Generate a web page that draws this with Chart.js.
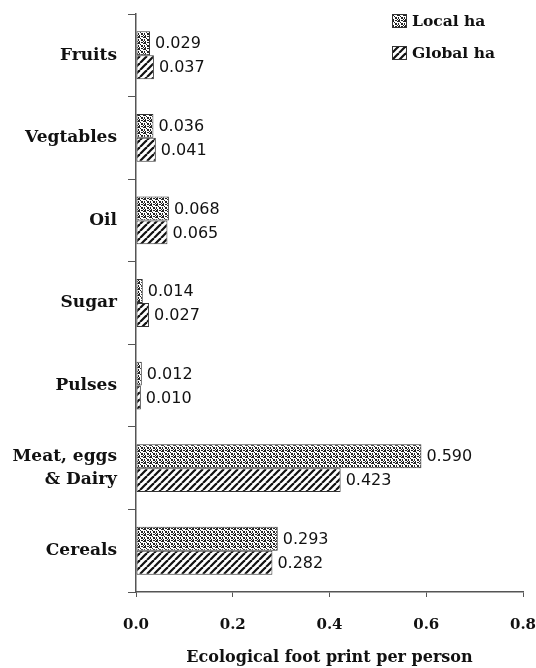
<!DOCTYPE html>
<html>
<head>
<meta charset="utf-8">
<script src="https://cdn.jsdelivr.net/npm/chart.js@4/dist/chart.umd.min.js"></script>
<style>
  html, body { margin: 0; padding: 0; background: #fff; }
  #wrap { position: relative; width: 536px; height: 668px; }
  #legend { position: absolute; left: 392px; top: 12px; font: bold 15.5px "DejaVu Serif", serif; color: #111; }
  #legend div { display: flex; align-items: center; height: 17px; margin-bottom: 15px; }
  #legend canvas { width: 15px; height: 14px; margin-right: 5px; }
</style>
</head>
<body>
<div id="wrap">
  <canvas id="chart" width="536" height="668"></canvas>
  <div id="legend">
    <div><canvas id="swLocal" width="15" height="14"></canvas><span>Local ha</span></div>
    <div><canvas id="swGlobal" width="15" height="14"></canvas><span>Global ha</span></div>
  </div>
</div>
<script>
// data
const categories = ['Fruits', 'Vegtables', 'Oil', 'Sugar', 'Pulses', ['Meat, eggs', '& Dairy'], 'Cereals'];
const localHa = [0.029, 0.036, 0.068, 0.014, 0.012, 0.590, 0.293];
const globalHa = [0.037, 0.041, 0.065, 0.027, 0.010, 0.423, 0.282];
const seriesNames = ['Local ha', 'Global ha'];
const xTicks = [0.0, 0.2, 0.4, 0.6, 0.8];

// fill patterns
function dotTile() {
    const c = document.createElement('canvas');
    c.width = 6; c.height = 6;
    const g = c.getContext('2d');
    g.fillStyle = '#fff';
    g.fillRect(0, 0, 6, 6);
    g.fillStyle = '#222';
    g.fillRect(0, 0, 2, 2);
    g.fillRect(3, 0, 2, 1);
    g.fillRect(3, 3, 2, 2);
    g.fillRect(0, 3, 1, 2);
    g.fillRect(2, 2, 1, 1);
    g.fillRect(5, 5, 1, 1);
    g.fillRect(5, 1, 1, 1);
    g.fillRect(1, 5, 1, 1);
    return c;
}

function hatchTile() {
    const c = document.createElement('canvas');
    c.width = 7; c.height = 7;
    const g = c.getContext('2d');
    g.fillStyle = '#fff';
    g.fillRect(0, 0, 7, 7);
    g.strokeStyle = '#111';
    g.lineWidth = 2.2;
    [-7, 0, 7].forEach(o => {
        g.beginPath();
        g.moveTo(o, 7);
        g.lineTo(o + 7, 0);
        g.stroke();
    });
    return c;
}

const ctx = document.getElementById('chart').getContext('2d');
const dotFill = ctx.createPattern(dotTile(), 'repeat');
const hatchFill = ctx.createPattern(hatchTile(), 'repeat');

// legend swatches
[['swLocal', dotTile()], ['swGlobal', hatchTile()]].forEach(([id, tile]) => {
    const g = document.getElementById(id).getContext('2d');
    g.fillStyle = g.createPattern(tile, 'repeat');
    g.fillRect(0, 0, 15, 14);
    g.strokeStyle = '#333';
    g.lineWidth = 1;
    g.strokeRect(0.5, 0.5, 14, 13);
});

// value labels at the end of each bar
const valueLabels = {
    id: 'valueLabels',
    afterDatasetsDraw(chart) {
        const c = chart.ctx;
        c.save();
        c.font = '16px "DejaVu Sans", sans-serif';
        c.fillStyle = '#111';
        c.textBaseline = 'middle';
        chart.data.datasets.forEach((ds, i) => {
            chart.getDatasetMeta(i).data.forEach((bar, j) => {
                c.fillText(ds.data[j].toFixed(3), bar.x + 5, bar.y + 1);
            });
        });
        c.restore();
    }
};

new Chart(ctx, {
    type: 'bar',
    data: {
        labels: categories,
        datasets: [
            { label: seriesNames[0], data: localHa, backgroundColor: dotFill, borderColor: '#333', borderWidth: 1, borderSkipped: false },
            { label: seriesNames[1], data: globalHa, backgroundColor: hatchFill, borderColor: '#333', borderWidth: 1, borderSkipped: false }
        ]
    },
    options: {
        indexAxis: 'y',
        responsive: false,
        animation: false,
        layout: { padding: { left: 0, right: 13, top: 14, bottom: 0 } },
        datasets: { bar: { categoryPercentage: 0.58, barPercentage: 1 } },
        plugins: {
            legend: { display: false },
            tooltip: { enabled: false }
        },
        scales: {
            x: {
                min: 0,
                max: 0.8,
                afterBuildTicks: (scale) => { scale.ticks = xTicks.map(v => ({ value: v })); },
                afterFit: (scale) => {
                    scale.height = 76;
                    scale.paddingLeft = 0;
                    scale.paddingRight = 0;
                },
                border: { color: '#555', width: 1.5 },
                grid: { drawOnChartArea: false, tickLength: 5, color: '#555' },
                ticks: {
                    padding: 19,
                    color: '#111',
                    font: { family: 'DejaVu Serif', size: 15, weight: 'bold' },
                    callback: (v) => Number(v).toFixed(1)
                },
                title: {
                    display: true,
                    text: 'Ecological foot print per person',
                    color: '#111',
                    font: { family: 'DejaVu Serif', size: 16, weight: 'bold' },
                    padding: { top: 0, bottom: 1 }
                }
            },
            y: {
                afterFit: (scale) => {
                    scale.width = 136;
                    scale.paddingTop = 0;
                    scale.paddingBottom = 0;
                },
                border: { color: '#555', width: 1.5 },
                grid: { drawOnChartArea: false, tickLength: 8, color: '#555', offset: true },
                ticks: {
                    padding: 11,
                    color: '#111',
                    font: { family: 'DejaVu Serif', size: 17, weight: 'bold', lineHeight: 1.4 }
                }
            }
        }
    },
    plugins: [valueLabels]
});
</script>
</body>
</html>
